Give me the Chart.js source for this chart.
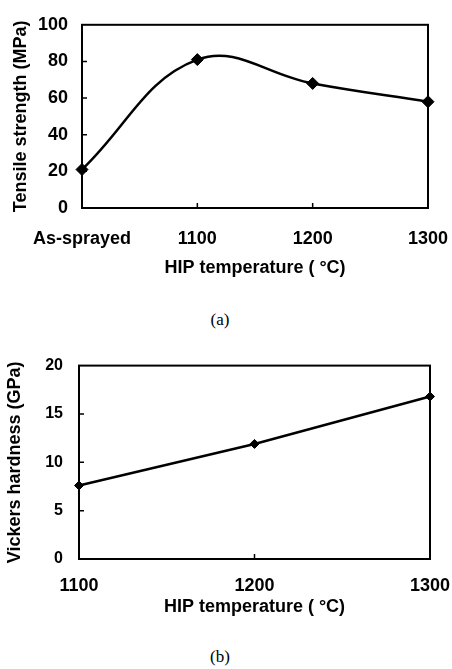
<!DOCTYPE html>
<html><head><meta charset="utf-8">
<script src="https://cdn.jsdelivr.net/npm/chart.js@4"></script>
<style>
body{margin:0;background:#fff;width:452px;height:669px;position:relative;overflow:hidden}
canvas{position:absolute;left:0}
#ca{top:0}
#cb{top:340px}
.cap{position:absolute;font-family:"Liberation Serif";font-size:17px;color:#000;width:60px;text-align:center;left:190px;line-height:20px}
</style></head><body>
<canvas id="ca" width="452" height="290"></canvas>
<canvas id="cb" width="452" height="290"></canvas>
<div class="cap" style="top:310px">(a)</div>
<div class="cap" style="top:647px">(b)</div>
<script>
// ---- data ----
const catsA = ['As-sprayed', '1100', '1200', '1300'];
const strengthA = [21, 81, 68, 58];
const yMinA = 0, yMaxA = 100, yStepA = 20;

const catsB = ['1100', '1200', '1300'];
const hardnessB = [7.6, 11.9, 16.8];
const yMinB = 0, yMaxB = 20, yStepB = 5;

const xTitle = 'HIP temperature ( °C)';
const yTitleA = 'Tensile strength (MPa)';
const yTitleB = 'Vickers hardness (GPa)';

Chart.defaults.font.family = 'Liberation Sans';
Chart.defaults.font.weight = 'bold';
Chart.defaults.color = '#000';

const boxPlugin = {
  id: 'box',
  beforeDatasetsDraw(chart) {
    const {ctx, chartArea: a, scales} = chart;
    ctx.save();
    ctx.strokeStyle = '#000';
    ctx.lineWidth = 2;
    ctx.strokeRect(a.left, a.top, a.right - a.left, a.bottom - a.top);
    // inward tick marks
    ctx.lineWidth = 1.5;
    ctx.beginPath();
    const xs = scales.x, ys = scales.y;
    for (let i = 1; i < xs.ticks.length - 1; i++) {
      const px = xs.getPixelForTick(i);
      ctx.moveTo(px, a.bottom); ctx.lineTo(px, a.bottom - 5);
    }
    for (let i = 1; i < ys.ticks.length - 1; i++) {
      const py = ys.getPixelForTick(i);
      ctx.moveTo(a.left, py); ctx.lineTo(a.left + 5, py);
    }
    ctx.stroke();
    ctx.restore();
  }
};

function makeChart(id, cats, vals, opt) {
  return new Chart(document.getElementById(id), {
    type: 'line',
    data: {
      labels: cats,
      datasets: [{
        data: vals,
        borderColor: '#000',
        backgroundColor: '#000',
        borderWidth: 2.5,
        pointStyle: 'rectRot',
        pointRadius: opt.pr,
        pointBackgroundColor: '#000',
        pointBorderColor: '#000',
        pointBorderWidth: 1,
        tension: opt.tension,
        clip: false
      }]
    },
    options: {
      responsive: false,
      animation: false,
      layout: {padding: {left: 0, right: opt.padR, top: 24, bottom: 0}},
      plugins: {legend: {display: false}, tooltip: {enabled: false}},
      scales: {
        x: {
          type: 'category',
          offset: false,
          grid: {display: false, drawTicks: false},
          border: {display: false},
          ticks: {font: {size: 18, weight: 'bold'}, padding: opt.xtp, maxRotation: 0, autoSkip: false},
          title: {display: true, text: xTitle, font: {size: 18, weight: 'bold'}, padding: {top: 0, bottom: opt.xtitlePb}},
          afterFit: s => { s.height = opt.xh; s.paddingRight = 0; s.paddingLeft = 0; }
        },
        y: {
          min: opt.ymin, max: opt.ymax,
          grid: {display: false, drawTicks: false},
          border: {display: false},
          ticks: {stepSize: opt.ystep, font: {size: opt.ytfs, weight: 'bold'}, padding: opt.ytp},
          title: {display: true, text: opt.ytitle, font: {size: 18, weight: 'bold'}, padding: {top: opt.ytitlePt, bottom: 0}},
          afterFit: s => { s.width = opt.yw; }
        }
      }
    },
    plugins: [boxPlugin]
  });
}

makeChart('ca', catsA, strengthA, {
  pr: 6, tension: 0.4, padR: 24, xtp: 20, xtitlePb: 11, xh: 82,
  ymin: yMinA, ymax: yMaxA, ystep: yStepA, ytfs: 18, ytp: 14, ytitle: yTitleA, ytitlePt: 10, yw: 82
});
makeChart('cb', catsB, hardnessB, {
  pr: 4.5, tension: 0, padR: 22, xtp: 16, xtitlePb: 12, xh: 71,
  ymin: yMinB, ymax: yMaxB, ystep: yStepB, ytfs: 16, ytp: 16, ytitle: yTitleB, ytitlePt: 4, yw: 79
});
</script>
</body></html>
